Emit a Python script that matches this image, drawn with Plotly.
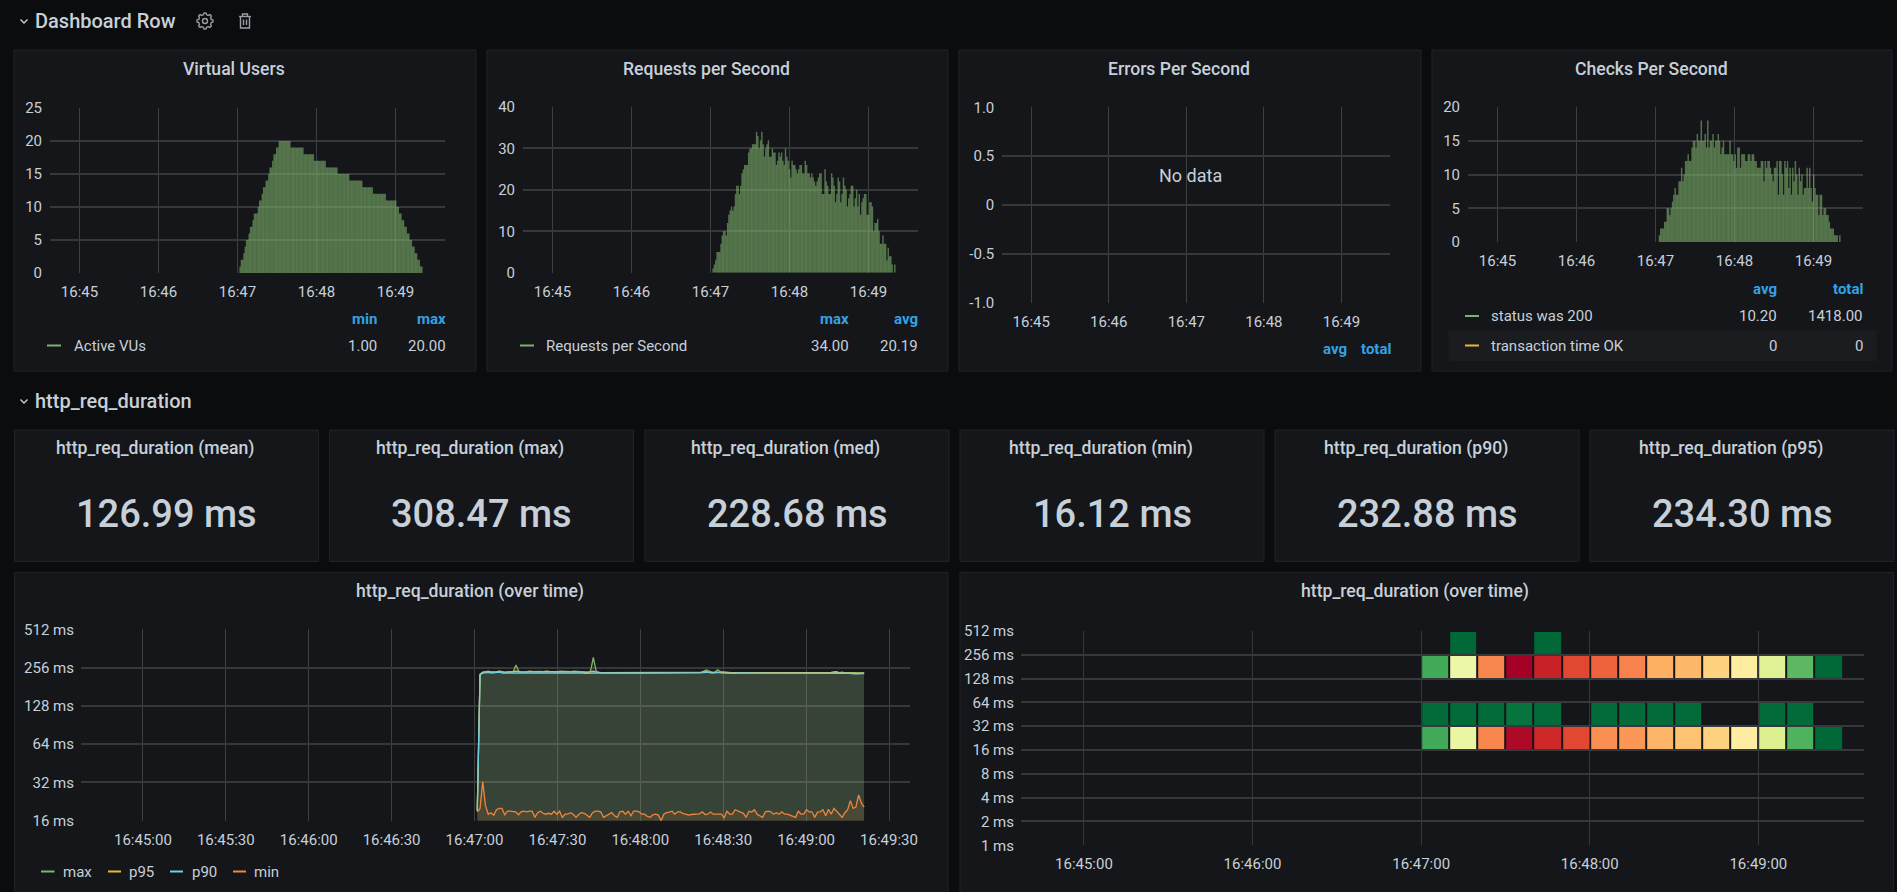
import math
import pandas as pd
import plotly.graph_objects as go

W = 1897
H = 892

page_bg = '#0b0c0e'
panel_bg = '#141619'
panel_line = '#202226'
grid_x = '#3d3f43'
grid_y = '#36383c'
text_col = '#c7d0d9'
head_col = '#33a2e5'
green = '#7EB26D'
yellow = '#EAB839'
blue = '#6ED0E0'
orange = '#EF843C'
tick_font = dict(family='Roboto', size=15, color=text_col)

# values
active_vus = [1, 2, 2, 3, 4, 5, 5, 6, 7, 7, 8, 9, 9, 9, 10, 11, 11, 12, 13, 13, 14, 14, 15, 16, 16, 17, 18, 18, 19, 19,
              20, 20, 20, 20, 20, 20, 20, 20, 20,
              19, 19, 19, 19, 19, 19, 19, 19, 19, 19,
              18, 18, 18, 18, 18, 18, 18, 18,
              17, 17, 17, 17, 17, 17, 17, 17, 17,
              16, 16, 16, 16, 16, 16, 16, 16, 16,
              15, 15, 15, 15, 15, 15, 15, 15, 15,
              14, 14, 14, 14, 14, 14, 14, 14, 14, 14,
              13, 13, 13, 13, 13, 13, 13, 13,
              12, 12, 12, 12, 12, 12, 12, 12, 12, 12,
              11, 11, 11, 11, 11, 11, 11, 11,
              10, 10, 9, 9, 8, 8, 7, 7, 6, 6, 5, 5, 4, 4, 3, 3, 2, 2, 1, 1]

requests_per_sec = [1, 2, 3, 5, 5, 5, 7, 9, 10, 10, 9, 12, 14, 15, 16, 15, 16, 19, 21, 21,
                    19, 21, 24, 25, 26, 26, 26, 29, 30, 30, 31, 31, 31, 34, 33, 30, 32, 34, 31, 28,
                    30, 31, 32, 28, 28, 30, 29, 29, 26, 27, 29, 28, 29, 27, 26, 30, 28, 27, 25, 23,
                    27, 26, 26, 25, 24, 25, 26, 26, 24, 24, 27, 26, 24, 24, 23, 24, 23, 22, 21, 22,
                    23, 24, 24, 19, 19, 25, 22, 21, 19, 19, 24, 23, 21, 17, 19, 23, 22, 17, 19, 23,
                    21, 20, 16, 18, 19, 21, 21, 16, 18, 20, 16, 19, 14, 17, 18, 19, 19, 14, 14, 17,
                    17, 16, 10, 12, 12, 13, 10, 7, 7, 9, 7, 7, 3, 6, 4, 4, 2, 0, 2]

checks_per_sec = [1, 2, 2, 2, 3, 3, 5, 5, 4, 5, 6, 7, 8, 7, 7, 9, 9, 11, 9, 10,
                  12, 12, 13, 12, 12, 14, 15, 15, 14, 16, 15, 15, 18, 15, 15, 16, 14, 18, 14, 15,
                  15, 16, 14, 15, 15, 16, 15, 13, 14, 15, 13, 13, 13, 13, 15, 13, 13, 12, 13, 11,
                  14, 14, 11, 13, 13, 13, 12, 12, 13, 13, 12, 13, 13, 12, 12, 11, 11, 11, 12, 12,
                  9, 12, 11, 12, 12, 11, 10, 9, 11, 11, 12, 7, 12, 12, 10, 7, 12, 11, 12, 8,
                  11, 7, 11, 9, 12, 10, 7, 11, 9, 10, 7, 8, 8, 11, 8, 11, 8, 6, 10, 8,
                  7, 7, 4, 7, 7, 4, 5, 5, 4, 4, 3, 2, 2, 2, 1, 1, 1, 0, 1]

req_max = [19.5, 228, 236, 238, 240, 237, 236, 238, 239, 237,
           236, 238, 237, 236, 268, 240, 236, 238, 237, 238,
           239, 238, 240, 239, 238, 240, 238, 237, 239, 238,
           240, 239, 238, 237, 238, 240, 239, 238, 238, 237,
           236, 240, 308.47, 240, 235, 234, 234, 235, 234, 234,
           234, 234, 235, 234, 234, 234, 234, 235, 234, 234,
           234, 235, 234, 234, 234, 234, 234, 235, 234, 234,
           234, 234, 235, 234, 234, 234, 236, 235, 234, 234,
           234, 236, 240, 245, 240, 235, 236, 246, 238, 236,
           236, 235, 234, 234, 235, 234, 234, 234, 234, 236,
           235, 234, 234, 235, 236, 235, 234, 235, 234, 234,
           235, 234, 236, 235, 234, 234, 234, 235, 236, 237,
           235, 234, 234, 235, 235, 234, 235, 234, 236, 235,
           235, 234, 235, 236, 234, 234, 235, 234, 233, 232,
           232]
req_p95 = [19.2, 226, 235, 237, 238, 236, 235, 237, 240, 236,
           235, 236, 238, 237, 240, 238, 236, 237, 238, 240,
           238, 237, 239, 238, 237, 239, 240, 238, 237, 238,
           239, 238, 237, 238, 239, 238, 237, 236, 236, 235,
           235, 237, 240, 236, 234, 233, 233, 234, 233, 233,
           233, 233, 234, 233, 233, 233, 234, 233, 233, 233,
           234, 233, 233, 233, 234, 233, 233, 234, 233, 233,
           233, 234, 233, 233, 233, 234, 233, 233, 234, 233,
           233, 234, 237, 238, 235, 234, 235, 236, 235, 234,
           234, 234, 233, 233, 234, 233, 233, 233, 234, 235,
           234, 233, 233, 234, 235, 234, 233, 234, 233, 233,
           234, 233, 235, 234, 233, 233, 233, 234, 235, 236,
           234, 233, 233, 234, 234, 233, 234, 233, 235, 237,
           238, 234, 236, 233, 233, 232, 232, 231, 231, 231,
           231]
req_p90 = [19, 224, 232, 233, 235, 232, 233, 234, 236, 232,
           232, 234, 233, 232, 235, 234, 232, 233, 234, 235,
           232, 233, 234, 232, 233, 234, 233, 232, 233, 232,
           234, 233, 232, 233, 233, 232, 233, 232, 232, 231,
           232, 232, 233, 232, 232, 231, 232, 232, 232, 231,
           232, 232, 232, 231, 232, 232, 232, 232, 231, 232,
           232, 232, 232, 231, 232, 232, 232, 232, 232, 231,
           232, 232, 232, 232, 231, 232, 232, 232, 232, 232,
           231, 232, 234, 236, 233, 232, 233, 235, 233, 232,
           231, 232, 232, 231, 232, 232, 232, 231, 232, 233,
           232, 231, 232, 232, 233, 232, 231, 232, 232, 232,
           232, 231, 232, 232, 232, 231, 232, 232, 233, 233,
           232, 231, 232, 232, 232, 232, 232, 231, 232, 232,
           233, 232, 232, 231, 232, 231, 229, 228, 229, 230,
           230]
req_min = [18.8, 20, 32.5, 21, 18, 18.5, 17.7, 19.5, 20, 20, 17.8, 19, 19, 19, 18.8, 17.8, 18.8, 19, 18.8, 19,
           19, 17, 18.5, 19, 18.3, 18, 18.3, 18, 19, 18, 19, 17, 18, 18, 18.5, 18, 17, 18, 18.5, 18.3,
           17.7, 17, 18.5, 19, 19, 18.8, 17, 17.5, 18, 18.5, 17.5, 17, 18.8, 19, 18, 19, 17.5, 19, 19, 18.8,
           18, 18, 17.3, 17, 17.8, 18, 17.7, 16, 18, 18.5, 18.7, 19, 18, 18.8, 18.8, 18.2, 18, 17.7, 17.9, 18,
           18, 18.1, 18.8, 17.9, 18, 18.7, 18, 18, 18, 18, 16.9, 19, 18, 18, 19.5, 19, 18.5, 18.3, 17, 19,
           18.7, 19.5, 18, 17.5, 17, 18.8, 19, 18.8, 18, 18.5, 18, 18.8, 18, 18, 17.7, 17.3, 17, 19, 18, 18,
           19.5, 18.8, 18.8, 17, 18.7, 18.8, 19.5, 17.5, 19.7, 18, 20, 19, 18, 17, 18.5, 19.5, 23, 20, 20.5, 25.5, 22, 20.5]

# heatmap counts per 10s bucket, rows from 16-32 ms up to 256-512 ms
heat_edges_ms = [16, 32, 64, 128, 256, 512]
heat_16_32 = [25, 72, 122, 157, 147, 138, 120, 118, 110, 106, 101, 90, 66, 28, 1]
heat_32_64 = [2, 2, 2, 5, 2, None, 2, 2, 2, 2, None, None, 2, 2, None]
heat_64_128 = [None] * 15
heat_128_256 = [25, 73, 122, 160, 149, 138, 131, 123, 112, 109, 101, 90, 68, 31, 1]
heat_256_512 = [None, 1, None, None, 1, None, None, None, None, None, None, None, None, None, None]

ms_ticks = [1, 2, 4, 8, 16, 32, 64, 128, 256, 512]
ms_labels = ['1 ms', '2 ms', '4 ms', '8 ms', '16 ms', '32 ms', '64 ms', '128 ms', '256 ms', '512 ms']
rdylgn = [[0, '#006837'], [0.1, '#1a9850'], [0.2, '#66bd63'], [0.3, '#a6d96a'], [0.4, '#d9ef8b'], [0.5, '#ffffbf'],
          [0.6, '#fee08b'], [0.7, '#fdae61'], [0.8, '#f46d43'], [0.9, '#d73027'], [1, '#a50026']]

day = '2021-03-01 '
time_range = [day + '16:44:37.6', day + '16:49:37.6']


def times(start, end, n):
    return pd.date_range(day + start, day + end, periods=n).strftime('%Y-%m-%d %H:%M:%S.%f').tolist()


def fx(x):
    return x / W


def fy(y):
    return 1 - y / H


shapes = []
notes = []


def rect(x0, y0, x1, y1, fill, line=None):
    shapes.append(dict(type='rect', xref='paper', yref='paper', x0=fx(x0), x1=fx(x1), y0=fy(y1), y1=fy(y0),
                       fillcolor=fill, line=dict(color=line or fill, width=1), layer='below'))


def note(x, y, text, size=15, color=text_col, anchor='left', weight=400):
    # annotations carry a small inner padding, take it back out
    if anchor == 'left':
        x -= 1.5
    elif anchor == 'right':
        x += 1.5
    notes.append(dict(x=fx(x), y=fy(y), xref='paper', yref='paper', text=text, showarrow=False, xanchor=anchor,
                      yanchor='middle', font=dict(family='Roboto', size=size, color=color, weight=weight)))


def dash(x0, x1, y, color):
    shapes.append(dict(type='line', xref='paper', yref='paper', x0=fx(x0), x1=fx(x1), y0=fy(y), y1=fy(y),
                       line=dict(color=color, width=2)))


def poly(points, color='#9a9da3', width=1.4, close=False):
    path = 'M ' + ' L '.join('%f %f' % (fx(p[0]), fy(p[1])) for p in points) + (' Z' if close else '')
    shapes.append(dict(type='path', xref='paper', yref='paper', path=path, line=dict(color=color, width=width)))


fig = go.Figure()


def add_axes(n, x0, x1, y0, y1, dtick, tickformat, yopts, standoff=7):
    suffix = '' if n == 1 else str(n)
    fig.update_layout({
        'xaxis' + suffix: dict(domain=[fx(x0), fx(x1)], anchor='y' + suffix, type='date', range=time_range,
                               tick0=day + '16:45:00', dtick=dtick, tickformat=tickformat, showgrid=True,
                               gridcolor=grid_x, gridwidth=1, zeroline=False, showline=False, ticks='',
                               ticklabelstandoff=8, tickfont=tick_font),
        'yaxis' + suffix: dict(domain=[fy(y1), fy(y0)], anchor='x' + suffix, showgrid=True, gridcolor=grid_y,
                               gridwidth=1.6, zeroline=False, showline=False, ticks='',
                               ticklabelstandoff=standoff, tickfont=tick_font, **yopts),
    })


def bars(n, values, start, end):
    suffix = '' if n == 1 else str(n)
    fig.add_trace(go.Bar(x=times(start, end, len(values)), y=values, width=1100,
                         marker=dict(color='rgba(126,178,109,0.6)', line=dict(width=0)),
                         xaxis='x' + suffix, yaxis='y' + suffix, showlegend=False))


# page furniture
rect(14, 50, 476, 371, panel_bg, panel_line)
rect(487, 50, 948, 371, panel_bg, panel_line)
rect(959, 50, 1421, 371, panel_bg, panel_line)
rect(1432, 50, 1892, 371, panel_bg, panel_line)
stat_left = [14.5, 329.5, 645, 960, 1275, 1590]
for x in stat_left:
    rect(x, 430, x + 304, 561.5, panel_bg, panel_line)
rect(14.5, 572.5, 948, 900, panel_bg, panel_line)
rect(960, 572.5, 1893.5, 900, panel_bg, panel_line)
rect(1449, 331, 1876, 360.5, '#1a1c20')

# row headers
poly([(20.5, 19.5), (24, 23), (27.5, 19.5)], color=text_col)
poly([(20.5, 399.5), (24, 403), (27.5, 399.5)], color=text_col)
note(34, 21, 'Dashboard Row', size=20, weight=500)
note(34, 401, 'http_req_duration', size=20, weight=500)

# gear icon
gear = []
for i in range(48):
    a = 2 * math.pi * i / 48
    r = 8 if (i % 6) in (0, 1, 5) else 6.4
    gear.append((205 + r * math.cos(a), 21 + r * math.sin(a)))
poly(gear, close=True)
shapes.append(dict(type='circle', xref='paper', yref='paper', x0=fx(202.5), x1=fx(207.5), y0=fy(23.5), y1=fy(18.5),
                   line=dict(color='#9a9da3', width=1.4)))
# trash icon
poly([(239, 16.5), (251, 16.5)])
poly([(242.5, 16.5), (242.5, 14), (247.5, 14), (247.5, 16.5)])
poly([(240.5, 16.5), (240.5, 28), (249.5, 28), (249.5, 16.5)])
poly([(243.5, 19.5), (243.5, 25)])
poly([(246.5, 19.5), (246.5, 25)])

# panel titles
note(234, 68.5, 'Virtual Users', size=17.6, anchor='center', weight=500)
note(706.5, 68.5, 'Requests per Second', size=17.6, anchor='center', weight=500)
note(1179, 68.5, 'Errors Per Second', size=17.6, anchor='center', weight=500)
note(1651, 68.5, 'Checks Per Second', size=17.6, anchor='center', weight=500)
note(470, 591, 'http_req_duration (over time)', size=17.6, anchor='center', weight=500)
note(1415, 591, 'http_req_duration (over time)', size=17.6, anchor='center', weight=500)

# table legends
note(377, 319, 'min', color=head_col, anchor='right', weight=700)
note(446, 319, 'max', color=head_col, anchor='right', weight=700)
dash(47, 61, 345.5, green)
note(73, 345.5, 'Active VUs')
note(377, 345.5, '1.00', anchor='right')
note(446, 345.5, '20.00', anchor='right')

note(849, 319, 'max', color=head_col, anchor='right', weight=700)
note(918, 319, 'avg', color=head_col, anchor='right', weight=700)
dash(520, 534, 345.5, green)
note(545, 345.5, 'Requests per Second')
note(849, 345.5, '34.00', anchor='right')
note(918, 345.5, '20.19', anchor='right')

note(1190, 175.5, 'No data', size=18, anchor='center')
note(1347.5, 349, 'avg', color=head_col, anchor='right', weight=700)
note(1391, 349, 'total', color=head_col, anchor='right', weight=700)

note(1777, 289, 'avg', color=head_col, anchor='right', weight=700)
note(1863, 289, 'total', color=head_col, anchor='right', weight=700)
dash(1465, 1479, 316, green)
note(1490.5, 316, 'status was 200')
note(1777, 316, '10.20', anchor='right')
note(1863, 316, '1418.00', anchor='right')
dash(1465, 1479, 345.5, yellow)
note(1490.5, 345.5, 'transaction time OK')
note(1777, 345.5, '0', anchor='right')
note(1863, 345.5, '0', anchor='right')

# stat panels
stat_names = ['mean', 'max', 'med', 'min', 'p90', 'p95']
stat_values = ['126.99 ms', '308.47 ms', '228.68 ms', '16.12 ms', '232.88 ms', '234.30 ms']
for x, name, value in zip(stat_left, stat_names, stat_values):
    note(x + 140.5, 448.5, 'http_req_duration (%s)' % name, size=17.6, anchor='center', weight=500)
    note(x + 152, 513.5, value, size=38, anchor='center', weight=500)

# small graphs
add_axes(1, 50, 445, 108, 273, 60000, '%H:%M', dict(range=[0, 25], dtick=5))
add_axes(2, 523, 918, 107, 272.7, 60000, '%H:%M', dict(range=[0, 40], dtick=10))
add_axes(3, 1002.3, 1390, 107.3, 302.7, 60000, '%H:%M',
         dict(range=[-1, 1], tickvals=[-1, -0.5, 0, 0.5, 1], ticktext=['-1.0', '-0.5', '0', '0.5', '1.0']))
add_axes(4, 1468, 1863, 107, 242, 60000, '%H:%M', dict(range=[0, 20], dtick=5))
bars(1, active_vus, '16:47:02', '16:49:20')
bars(2, requests_per_sec, '16:47:02', '16:49:20')
bars(4, checks_per_sec, '16:47:03', '16:49:20')
fig.add_trace(go.Scatter(x=[], y=[], xaxis='x3', yaxis='y3', showlegend=False))

# over time lines
add_axes(5, 81, 910, 629.3, 820.7, 30000, '%H:%M:%S',
         dict(type='log', range=[math.log10(16), math.log10(512)], tickvals=ms_ticks[4:], ticktext=ms_labels[4:]),
         standoff=6)
for name, values, color, fill in [('max', req_max, green, 'rgba(126,178,109,0.1)'),
                                  ('p95', req_p95, yellow, 'rgba(234,184,57,0.1)'),
                                  ('p90', req_p90, blue, 'rgba(110,208,224,0.1)'),
                                  ('min', req_min, orange, 'rgba(239,132,60,0.1)')]:
    fig.add_trace(go.Scatter(x=times('16:47:01', '16:49:21', len(values)), y=values, name=name, mode='lines',
                             line=dict(color=color, width=1.3), fill='tozeroy', fillcolor=fill,
                             xaxis='x5', yaxis='y5', showlegend=False))
dash(41, 54.5, 871.5, green)
note(62.5, 871.5, 'max')
dash(108, 121, 871.5, yellow)
note(128.5, 871.5, 'p95')
dash(170, 183, 871.5, blue)
note(191.5, 871.5, 'p90')
dash(233, 246, 871.5, orange)
note(253, 871.5, 'min')

# heatmap
add_axes(6, 1021, 1864, 631, 845.3, 60000, '%H:%M:%S',
         dict(type='log', range=[0, math.log10(512)], tickvals=ms_ticks, ticktext=ms_labels), standoff=6)
fig.layout.xaxis6.gridcolor = '#35373b'
fig.add_trace(go.Heatmap(x=pd.date_range(day + '16:47:00', periods=16, freq='10s').strftime('%Y-%m-%d %H:%M:%S').tolist(),
                         y=heat_edges_ms, z=[heat_16_32, heat_32_64, heat_64_128, heat_128_256, heat_256_512],
                         colorscale=rdylgn, zmin=1, zmax=160, showscale=False, xgap=2, ygap=2,
                         xaxis='x6', yaxis='y6'))

fig.update_layout(width=W, height=H, autosize=False, margin=dict(l=0, r=0, t=0, b=0, pad=0, autoexpand=False),
                  paper_bgcolor=page_bg, plot_bgcolor='rgba(0,0,0,0)', barmode='overlay', showlegend=False,
                  shapes=shapes, annotations=notes, font=dict(family='Roboto', color=text_col))

fig.write_html("out.html", config=dict(displayModeBar=False),
               post_script="document.body.style.margin='0';document.documentElement.style.overflow='hidden';")
